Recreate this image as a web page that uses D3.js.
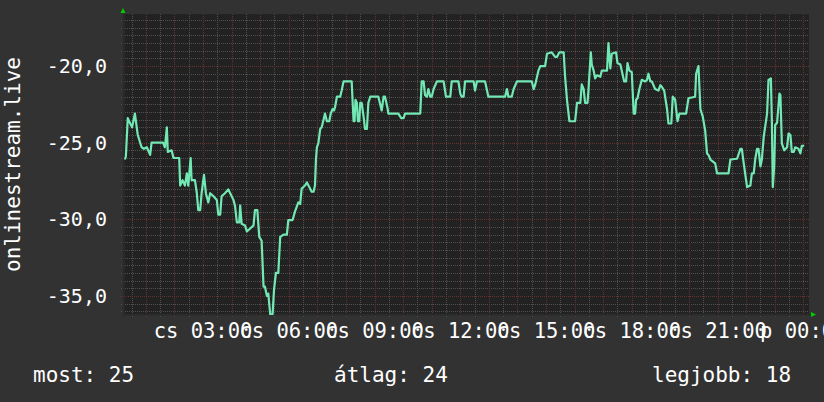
<!DOCTYPE html>
<html>
<head>
<meta charset="utf-8">
<script src="https://cdn.jsdelivr.net/npm/d3@7"></script>
<style>
    body { margin: 0; background: #323232; overflow: hidden; }
    svg { display: block; }
    text { font-family: 'DejaVu Sans Mono', monospace; fill: #ffffff; }
</style>
</head>
<body>
<svg id="chart"></svg>
<script>
// Sample times, minutes after Thursday 00:00
const sampleMinutes = [
    16, 18, 22, 31, 37, 43, 51, 56, 62, 69, 72, 96, 100, 104, 106, 114, 118, 130,
    132, 137, 142, 146, 149, 154, 156, 163, 167, 170, 174, 177, 182, 186, 191, 195,
    202, 209, 212, 216, 219, 226, 233, 237, 244, 247, 251, 256, 258, 261, 268, 272,
    279, 286, 289, 294, 298, 303, 307, 310, 314, 317, 321, 326, 329, 333, 338, 342,
    349, 356, 359, 368, 373, 380, 384, 387, 394, 398, 403, 408, 412, 415, 417, 419,
    422, 426, 429, 433, 436, 440, 445, 448, 452, 455, 457, 461, 468, 471, 475, 492,
    496, 498, 500, 503, 505, 508, 510, 513, 517, 520, 524, 527, 531, 548, 555, 559,
    562, 567, 569, 590, 596, 601, 604, 636, 639, 643, 646, 650, 653, 657, 660, 664,
    671, 685, 690, 699, 702, 716, 720, 723, 727, 730, 748, 751, 755, 772, 779, 814,
    818, 821, 828, 832, 839, 870, 874, 877, 884, 888, 898, 902, 912, 919, 923, 928,
    937, 940, 944, 949, 961, 965, 972, 975, 979, 982, 987, 989, 994, 996, 1000, 1003,
    1007, 1014, 1017, 1028, 1031, 1035, 1038, 1047, 1050, 1056, 1059, 1064, 1068, 1071, 1075, 1080,
    1084, 1087, 1089, 1092, 1096, 1101, 1108, 1112, 1115, 1119, 1122, 1129, 1136, 1140, 1143, 1148,
    1154, 1157, 1163, 1166, 1171, 1176, 1180, 1194, 1199, 1213, 1215, 1220, 1224, 1229, 1234, 1238,
    1241, 1245, 1255, 1259, 1283, 1287, 1301, 1308, 1311, 1315, 1322, 1329, 1332, 1336, 1339, 1343,
    1346, 1350, 1353, 1357, 1364, 1367, 1372, 1374, 1376, 1379, 1381, 1385, 1390, 1392, 1395, 1400,
    1406, 1409, 1413, 1416, 1420, 1423, 1430, 1434, 1437, 1442
];

const sampleValues = [
    -26.1, -25.9, -23.4, -24.0, -23.1, -24.5, -25.3, -25.4, -25.3, -25.8, -25.0, -25.0, -25.3, -24.0, -25.6, -25.5, -26.0, -26.0,
    -27.8, -27.45, -27.8, -27.0, -27.8, -26.0, -27.45, -27.45, -28.3, -29.4, -29.4, -28.3, -27.1, -28.3, -28.9, -28.3,
    -28.5, -28.75, -29.7, -29.7, -28.5, -28.3, -28.05, -28.3, -28.75, -29.1, -30.2, -30.2, -29.1, -30.3, -30.4, -30.8,
    -30.6, -30.4, -29.4, -29.4, -31.15, -31.4, -34.4, -34.4, -35.0, -34.85, -36.2, -36.2, -34.6, -33.5, -33.5, -31.15,
    -31.0, -31.0, -30.05, -30.05, -29.5, -28.9, -29.0, -28.0, -27.8, -27.6, -27.9, -28.2, -28.2, -27.8, -26.1, -25.3,
    -25.05, -24.1, -24.0, -23.5, -23.1, -23.6, -23.6, -23.1, -22.8, -22.9, -22.7, -22.0, -22.0, -21.6, -21.0, -21.0,
    -23.6, -23.6, -22.2, -22.4, -23.6, -23.6, -22.4, -22.4, -23.3, -24.1, -24.1, -22.4, -22.0, -22.0, -22.9, -22.0,
    -22.0, -22.7, -23.1, -23.1, -23.4, -23.4, -23.1, -23.1, -21.0, -21.0, -21.9, -22.0, -21.5, -22.0, -22.0, -21.5,
    -21.0, -21.0, -22.0, -22.0, -21.0, -21.0, -21.8, -22.0, -22.0, -21.0, -21.0, -21.6, -21.0, -21.0, -22.0, -22.0,
    -21.5, -22.0, -22.0, -21.5, -21.0, -21.0, -21.5, -21.25, -20.3, -20.0, -20.0, -19.2, -19.1, -19.4, -19.4, -19.1,
    -19.1, -20.7, -22.2, -23.6, -23.6, -22.4, -22.4, -21.2, -21.5, -22.4, -22.4, -21.6, -19.1, -19.9, -20.3, -20.8,
    -20.6, -20.7, -20.3, -20.3, -18.5, -20.15, -19.2, -19.1, -19.8, -19.9, -20.3, -21.0, -21.0, -19.8, -20.3, -20.4,
    -23.1, -23.1, -22.2, -22.1, -21.5, -20.9, -21.0, -20.9, -20.5, -21.0, -21.0, -21.5, -21.6, -21.25, -21.35, -21.6,
    -22.8, -23.75, -23.75, -22.0, -22.2, -23.6, -23.1, -23.1, -22.1, -22.0, -20.5, -20.0, -22.8, -23.3, -24.2, -25.7,
    -25.8, -26.1, -26.35, -27.0, -27.0, -26.1, -26.05, -25.4, -25.4, -26.35, -27.9, -27.8, -27.0, -27.0, -26.1, -25.4,
    -25.4, -26.55, -26.1, -24.6, -23.1, -20.9, -20.8, -23.5, -27.9, -26.55, -23.85, -23.7, -21.8, -21.9, -25.05, -25.5,
    -25.3, -24.4, -24.5, -25.6, -25.6, -25.3, -25.4, -25.7, -25.2, -25.2
];

// x axis labels (minutes after Thursday 00:00)
const xTickMinutes = [180, 360, 540, 720, 900, 1080, 1260, 1440];
const xTickLabels = ['cs 03:00', 'cs 06:00', 'cs 09:00', 'cs 12:00', 'cs 15:00', 'cs 18:00', 'cs 21:00', 'p 00:00'];

const yTickValues = [-35, -30, -25, -20];
const yTickLabels = ['-35,0', '-30,0', '-25,0', '-20,0'];

const axisTitle = 'onlinestream.live';
const legendLabels = ['most: 25', 'átlag: 24', 'legjobb: 18'];

// time window shown: 00:12 Thursday to 00:12 Friday
const windowStart = 12;
const windowEnd = 1452;
const yDomain = [-36.25, -16.6];

class RrdChart {

    constructor(_config) {
        this.config = {
            parentElement: _config.parentElement,
            containerWidth: 824,
            containerHeight: 402,
            margin: { top: 14, left: 123, right: 15, bottom: 87 }
        };
        this.initVis();
    }

    initVis() {
        let vis = this;
        const m = vis.config.margin;

        vis.width = vis.config.containerWidth - m.left - m.right;
        vis.height = vis.config.containerHeight - m.top - m.bottom;

        vis.svg = d3.select(vis.config.parentElement)
            .attr('width', vis.config.containerWidth)
            .attr('height', vis.config.containerHeight);

        vis.svg.append('rect')
            .attr('width', vis.config.containerWidth)
            .attr('height', vis.config.containerHeight)
            .attr('fill', '#323232');

        vis.chart = vis.svg.append('g')
            .attr('transform', `translate(${m.left},${m.top})`);

        vis.chart.append('rect')
            .attr('width', vis.width)
            .attr('height', vis.height)
            .attr('fill', '#222222');

        vis.svg.append('clipPath')
            .attr('id', 'plot-clip')
            .append('rect')
            .attr('width', vis.width)
            .attr('height', vis.height);

        // Thursday, used only to turn minutes into dates
        vis.baseDate = new Date(2024, 0, 4);
        vis.toDate = mins => new Date(vis.baseDate.getTime() + mins * 60000);

        vis.xScale = d3.scaleTime()
            .domain([vis.toDate(windowStart), vis.toDate(windowEnd)])
            .range([0, vis.width]);

        vis.yScale = d3.scaleLinear()
            .domain(yDomain)
            .range([vis.height, 0]);

        vis.data = sampleMinutes.map((t, i) => ({ time: vis.toDate(t), val: sampleValues[i] }));
    }

    renderVis() {
        let vis = this;
        const [t0, t1] = vis.xScale.domain();

        // major grid: every hour / every 5 units; minor: half hours / half units
        const majorX = d3.timeHour.every(1).range(t0, t1);
        const majorY = d3.range(-35, -16.5, 5);
        const minorX = d3.timeMinute.every(30).range(t0, t1).filter(d => d.getMinutes() !== 0);
        const minorY = d3.range(-36, -16.5, 0.5).filter(d => d % 5 !== 0);

        const grid = vis.chart.append('g').attr('class', 'grid');
        const px = v => Math.round(v) + 0.5;

        grid.selectAll('.minor-x')
            .data(minorX)
            .join('line')
            .attr('x1', d => px(vis.xScale(d)))
            .attr('x2', d => px(vis.xScale(d)))
            .attr('y1', 0)
            .attr('y2', vis.height + 2)
            .attr('stroke', '#505050')
            .attr('stroke-dasharray', '1,1');

        grid.selectAll('.minor-y')
            .data(minorY)
            .join('line')
            .attr('x1', -2)
            .attr('x2', vis.width)
            .attr('y1', d => px(vis.yScale(d)))
            .attr('y2', d => px(vis.yScale(d)))
            .attr('stroke', '#505050')
            .attr('stroke-dasharray', '1,1');

        grid.selectAll('.major-x')
            .data(majorX)
            .join('line')
            .attr('x1', d => px(vis.xScale(d)))
            .attr('x2', d => px(vis.xScale(d)))
            .attr('y1', 0)
            .attr('y2', vis.height + 3)
            .attr('stroke', '#643333')
            .attr('stroke-dasharray', '1,1');

        grid.selectAll('.major-y')
            .data(majorY)
            .join('line')
            .attr('x1', -3)
            .attr('x2', vis.width)
            .attr('y1', d => px(vis.yScale(d)))
            .attr('y2', d => px(vis.yScale(d)))
            .attr('stroke', '#643333')
            .attr('stroke-dasharray', '1,1');

        // axis lines
        vis.chart.append('line')
            .attr('x1', 0.5).attr('x2', 0.5)
            .attr('y1', 0).attr('y2', vis.height + 2)
            .attr('stroke', '#2c2c2c')
            .attr('stroke-width', 2);
        vis.chart.append('line')
            .attr('x1', -2).attr('x2', vis.width + 2)
            .attr('y1', vis.height).attr('y2', vis.height)
            .attr('stroke', '#2c2c2c')
            .attr('stroke-width', 2);

        // axis arrows
        vis.chart.append('path')
            .attr('d', 'M-2.5,-1 L2.5,-1 L0,-6 Z')
            .attr('fill', '#00cc00');
        vis.chart.append('path')
            .attr('d', `M${vis.width + 2},${vis.height - 3} L${vis.width + 2},${vis.height + 2} L${vis.width + 7},${vis.height - 0.5} Z`)
            .attr('fill', '#00cc00');

        // data line
        vis.line = d3.line()
            .x(d => vis.xScale(d.time))
            .y(d => vis.yScale(d.val));

        vis.chart.append('path')
            .datum(vis.data)
            .attr('clip-path', 'url(#plot-clip)')
            .attr('fill', 'none')
            .attr('stroke', '#72e8b4')
            .attr('stroke-width', 2.2)
            .attr('stroke-linejoin', 'round')
            .attr('d', vis.line);

        // y tick labels
        vis.chart.selectAll('.y-label')
            .data(yTickValues)
            .join('text')
            .attr('x', -16)
            .attr('y', d => vis.yScale(d))
            .attr('dy', '0.36em')
            .attr('text-anchor', 'end')
            .style('font-size', '20px')
            .text((d, i) => yTickLabels[i]);

        // x tick labels
        vis.chart.selectAll('.x-label')
            .data(xTickMinutes)
            .join('text')
            .attr('x', d => vis.xScale(vis.toDate(d)))
            .attr('y', vis.height + 23)
            .attr('text-anchor', 'middle')
            .style('font-size', '20.5px')
            .text((d, i) => xTickLabels[i]);

        // vertical title
        vis.svg.append('text')
            .attr('transform', `translate(20,${vis.config.margin.top + vis.height / 2}) rotate(-90)`)
            .attr('text-anchor', 'middle')
            .style('font-size', '21px')
            .text(axisTitle);

        // legend row
        const legendX = [33, 334, 652];
        vis.svg.selectAll('.legend')
            .data(legendLabels)
            .join('text')
            .attr('x', (d, i) => legendX[i])
            .attr('y', 382)
            .style('font-size', '21px')
            .text(d => d);
    }
}

const chart = new RrdChart({ parentElement: '#chart' });
chart.renderVis();
</script>
</body>
</html>
